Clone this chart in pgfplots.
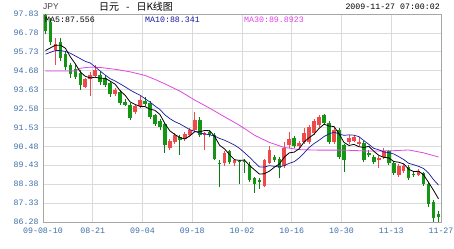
\documentclass[border=0pt]{standalone}
\usepackage{pgfplots}
\pgfplotsset{compat=1.18}
\usepackage{pgfplotstable}
\usepackage{fontspec}
\setmainfont{Liberation Sans}
\setmonofont{Liberation Mono}
\newfontfamily\cjk{Noto Sans CJK SC}
\definecolor{upred}{RGB}{238,74,74}
\definecolor{dngreen}{RGB}{20,150,20}
\definecolor{gridc}{RGB}{218,218,218}
\definecolor{ticklab}{RGB}{60,110,170}
\definecolor{ma10c}{RGB}{25,25,160}
\definecolor{ma30c}{RGB}{225,70,225}

\pgfplotstableread{
x o h l c
2.5 95.85 96.5 95.0 96.15
8.5 93.8 94.3 93.7 94.2
9.5 94.2 94.6 93.3 94.45
10.5 94.4 95.0 94.3 94.7
14.5 93.4 93.7 93.3 93.6
18.5 92.4 92.8 92.3 92.7
19.5 92.7 93.3 92.6 93.05
25.5 90.4 90.9 90.3 90.8
26.5 90.7 91.2 90.6 91.1
28.5 90.9 91.3 90.8 91.15
29.5 91.1 91.5 91.0 91.4
30.5 91.4 92.4 91.3 91.95
32.5 91.1 91.3 90.3 91.2
36.5 89.55 90.2 89.4 90.1
38.5 89.55 89.8 89.4 89.7
44.5 88.3 89.8 88.2 89.7
45.5 89.55 90.5 89.5 90.3
48.5 89.4 90.7 89.3 90.4
49.5 90.55 91.3 90.4 90.9
51.5 90.5 90.8 90.4 90.65
52.5 90.7 91.5 90.6 91.2
53.5 90.7 91.65 90.6 91.55
54.5 91.2 92.0 91.1 91.9
55.5 91.65 92.2 91.55 92.1
58.5 90.7 91.5 90.6 91.4
61.5 90.75 91.1 90.6 90.95
62.5 90.8 91.1 90.7 91.0
63.5 90.6 91.0 90.5 90.75
67.5 89.7 89.95 89.3 89.85
68.5 89.9 90.4 89.8 90.2
71.5 88.9 89.5 88.8 89.4
72.5 89.1 89.5 89.0 89.4
75.5 88.9 89.2 88.85 89.1
}\upT

\pgfplotstableread{
x o h l c
0.5 97.75 97.83 96.7 96.9
1.5 97.4 97.6 96.1 96.3
3.5 96.3 96.5 95.2 95.4
4.5 95.6 95.75 94.7 94.9
5.5 95.0 95.1 94.3 94.5
6.5 94.8 95.0 94.2 94.35
7.5 94.55 94.7 93.6 93.9
11.5 94.45 94.6 93.9 94.05
12.5 94.3 94.45 93.8 93.9
13.5 94.0 94.1 93.2 93.4
15.5 93.5 93.6 92.8 92.9
16.5 92.95 93.1 92.7 92.8
17.5 92.8 92.9 91.95 92.05
20.5 93.0 93.2 92.7 92.85
21.5 92.9 93.0 92.0 92.1
22.5 92.2 92.3 91.6 91.7
23.5 91.9 92.0 91.4 91.55
24.5 91.7 91.8 90.1 90.55
27.5 91.0 91.1 90.0 90.85
31.5 91.95 92.1 91.0 91.1
33.5 91.25 91.4 91.0 91.1
34.5 91.1 91.2 89.7 89.8
35.5 89.55 89.7 88.2 89.5
37.5 90.2 90.3 89.5 89.6
39.5 89.65 89.75 88.4 89.6
40.5 89.65 89.8 89.0 89.6
41.5 89.45 89.6 88.5 88.6
42.5 88.7 88.8 87.9 88.4
43.5 88.6 88.7 88.1 88.5
46.5 89.9 90.0 89.6 89.7
47.5 89.8 89.9 88.7 89.3
50.5 90.95 91.05 90.4 90.5
56.5 92.2 92.3 91.7 91.8
57.5 91.8 91.9 90.6 90.7
59.5 91.4 91.5 89.8 89.9
60.5 90.55 90.6 89.05 89.7
64.5 90.65 90.8 89.6 89.7
65.5 90.1 90.3 89.9 90.0
66.5 89.9 90.0 89.5 89.6
69.5 90.2 90.3 89.45 89.55
70.5 89.55 89.6 88.9 89.0
73.5 89.35 89.45 88.6 88.7
74.5 88.95 89.05 88.8 88.9
76.5 89.0 89.05 88.3 88.4
77.5 88.4 88.5 87.1 87.3
78.5 87.4 87.5 86.3 86.5
79.5 86.75 86.9 86.3 86.55
}\dnT

\begin{document}
\begin{tikzpicture}
\begin{axis}[
  at={(0,0)}, anchor=south west,
  scale only axis, width=398bp, height=208bp,
  xmin=0, xmax=80, ymin=86.28, ymax=97.83,
  xtick={0,10,...,80},
  xticklabels={09-08-10,08-21,09-04,09-18,10-02,10-16,10-30,11-13,11-27},
  ytick={86.28,87.33,88.38,89.43,90.48,91.53,92.58,93.63,94.68,95.73,96.78,97.83},
  yticklabels={86.28,87.33,88.38,89.43,90.48,91.53,92.58,93.63,94.68,95.73,96.78,97.83},
  grid=major, major grid style={draw=gridc, line width=0.8bp},
  axis line style={draw=gray!70, line width=0.8bp},
  major tick length=0pt,
  ticklabel style={font=\ttfamily\fontsize{8.3}{8.3}\selectfont, text=ticklab},
  xticklabel style={yshift=-2.5bp},
  yticklabel style={xshift=-1bp},
  clip=true,
]
% wicks
\addplot [draw=none, mark=none, forget plot, error bars/.cd, y dir=plus, y explicit, error mark=none,
  error bar style={draw=upred, line width=0.8bp}]
  table [x=x, y=l, y error expr=\thisrow{h}-\thisrow{l}] {\upT};
\addplot [draw=none, mark=none, forget plot, error bars/.cd, y dir=plus, y explicit, error mark=none,
  error bar style={draw=dngreen!80!black, line width=0.8bp}]
  table [x=x, y=l, y error expr=\thisrow{h}-\thisrow{l}] {\dnT};
% bodies
\addplot [draw=none, mark=none, forget plot, error bars/.cd, y dir=plus, y explicit, error mark=none,
  error bar style={draw=upred, line width=3.6bp}]
  table [x=x, y=o, y error expr=\thisrow{c}-\thisrow{o}] {\upT};
\addplot [draw=none, mark=none, forget plot, error bars/.cd, y dir=plus, y explicit, error mark=none,
  error bar style={draw=dngreen, line width=3.6bp}]
  table [x=x, y=c, y error expr=\thisrow{o}-\thisrow{c}] {\dnT};
% MA30
\addplot [ma30c, line width=0.8bp, mark=none] coordinates {
(0.5,94.66) (3.5,94.66) (6.5,94.66) (7.5,94.82) (9.5,94.88) (11.5,94.86) (14.5,94.76)
(17.5,94.62) (20.5,94.42) (22.5,94.2) (24.5,93.95) (27.5,93.55) (30.5,93.05) (33.5,92.6)
(36.5,92.12) (39.5,91.65) (42.5,91.1) (45.5,90.7) (48.5,90.42) (51.5,90.3) (55.5,90.27)
(60.5,90.27) (65.5,90.22) (70.5,90.24) (73.5,90.28) (76.5,90.12) (79.5,89.89)};
% MA10
\addplot [ma10c, line width=0.7bp, mark=none] coordinates {
(0.5,95.6) (1.5,95.7) (2.5,95.8) (3.5,95.8) (4.5,95.75) (5.5,95.65) (6.5,95.5) (7.5,95.35)
(8.5,95.2) (9.5,95.11) (10.5,94.89) (11.5,94.66) (12.5,94.44) (13.5,94.24) (14.5,94.11)
(15.5,93.95) (16.5,93.79) (17.5,93.61) (18.5,93.46) (19.5,93.32) (20.5,93.13) (21.5,92.94)
(22.5,92.72) (23.5,92.53) (24.5,92.23) (25.5,92.02) (26.5,91.85) (27.5,91.73) (28.5,91.57)
(29.5,91.41) (30.5,91.32) (31.5,91.22) (32.5,91.17) (33.5,91.12) (34.5,91.05) (35.5,90.92)
(36.5,90.82) (37.5,90.69) (38.5,90.55) (39.5,90.37) (40.5,90.13) (41.5,89.88) (42.5,89.60)
(43.5,89.34) (44.5,89.33) (45.5,89.41) (46.5,89.37) (47.5,89.34) (48.5,89.41) (49.5,89.54)
(50.5,89.63) (51.5,89.84) (52.5,90.12) (53.5,90.42) (54.5,90.64) (55.5,90.82) (56.5,91.03)
(57.5,91.17) (58.5,91.27) (59.5,91.17) (60.5,91.09) (61.5,91.12) (62.5,91.10) (63.5,91.02)
(64.5,90.80) (65.5,90.59) (66.5,90.37) (67.5,90.29) (68.5,90.17) (69.5,90.13) (70.5,90.06)
(71.5,89.91) (72.5,89.75) (73.5,89.54) (74.5,89.46) (75.5,89.37) (76.5,89.25) (77.5,89.00)
(78.5,88.63) (79.5,88.33)};
% MA5
\addplot [black, line width=0.8bp, mark=none] coordinates {
(0.5,95.8) (1.5,95.95) (2.5,96.1) (3.5,96.1) (4.5,95.93) (5.5,95.45) (6.5,95.06) (7.5,94.61)
(8.5,94.37) (9.5,94.28) (10.5,94.32) (11.5,94.26) (12.5,94.26) (13.5,94.10) (14.5,93.93)
(15.5,93.57) (16.5,93.32) (17.5,92.95) (18.5,92.81) (19.5,92.70) (20.5,92.69) (21.5,92.55)
(22.5,92.48) (23.5,92.25) (24.5,91.75) (25.5,91.34) (26.5,91.14) (27.5,90.97) (28.5,90.89)
(29.5,91.06) (30.5,91.29) (31.5,91.29) (32.5,91.36) (33.5,91.35) (34.5,91.03) (35.5,90.54)
(36.5,90.34) (37.5,90.02) (38.5,89.74) (39.5,89.70) (40.5,89.72) (41.5,89.42) (42.5,89.18)
(43.5,88.94) (44.5,88.96) (45.5,89.10) (46.5,89.32) (47.5,89.50) (48.5,89.88) (49.5,90.12)
(50.5,90.16) (51.5,90.35) (52.5,90.73) (53.5,90.96) (54.5,91.16) (55.5,91.48) (56.5,91.71)
(57.5,91.61) (58.5,91.58) (59.5,91.18) (60.5,90.70) (61.5,90.53) (62.5,90.59) (63.5,90.46)
(64.5,90.42) (65.5,90.48) (66.5,90.21) (67.5,89.98) (68.5,89.87) (69.5,89.84) (70.5,89.64)
(71.5,89.60) (72.5,89.51) (73.5,89.21) (74.5,89.08) (75.5,89.10) (76.5,88.90) (77.5,88.48)
(78.5,88.04) (79.5,87.57)};
\end{axis}
\node[anchor=west, inner sep=0, font=\fontsize{8.5}{8.5}\selectfont, text=black!75] at (0bp,215bp) {JPY};
\node[anchor=west, inner sep=0, font=\cjk\fontsize{10}{10}\selectfont] at (56bp,215bp) {日元\hspace{7bp}-\hspace{7bp}日K线图};
\node[anchor=east, inner sep=0, font=\ttfamily\fontsize{8.3}{8.3}\selectfont] at (397bp,215bp) {2009-11-27 07:00:02};
\node[anchor=west, inner sep=0, font=\ttfamily\fontsize{8.3}{8.3}\selectfont] at (2bp,202bp) {MA5:87.556};
\node[anchor=west, inner sep=0, font=\ttfamily\fontsize{8.3}{8.3}\selectfont, text=ma10c] at (102bp,202bp) {MA10:88.341};
\node[anchor=west, inner sep=0, font=\ttfamily\fontsize{8.3}{8.3}\selectfont, text=ma30c] at (201bp,202bp) {MA30:89.8923};
\pgfresetboundingbox
\useasboundingbox (-43bp,-27bp) rectangle (411bp,222bp);
\end{tikzpicture}
\end{document}
